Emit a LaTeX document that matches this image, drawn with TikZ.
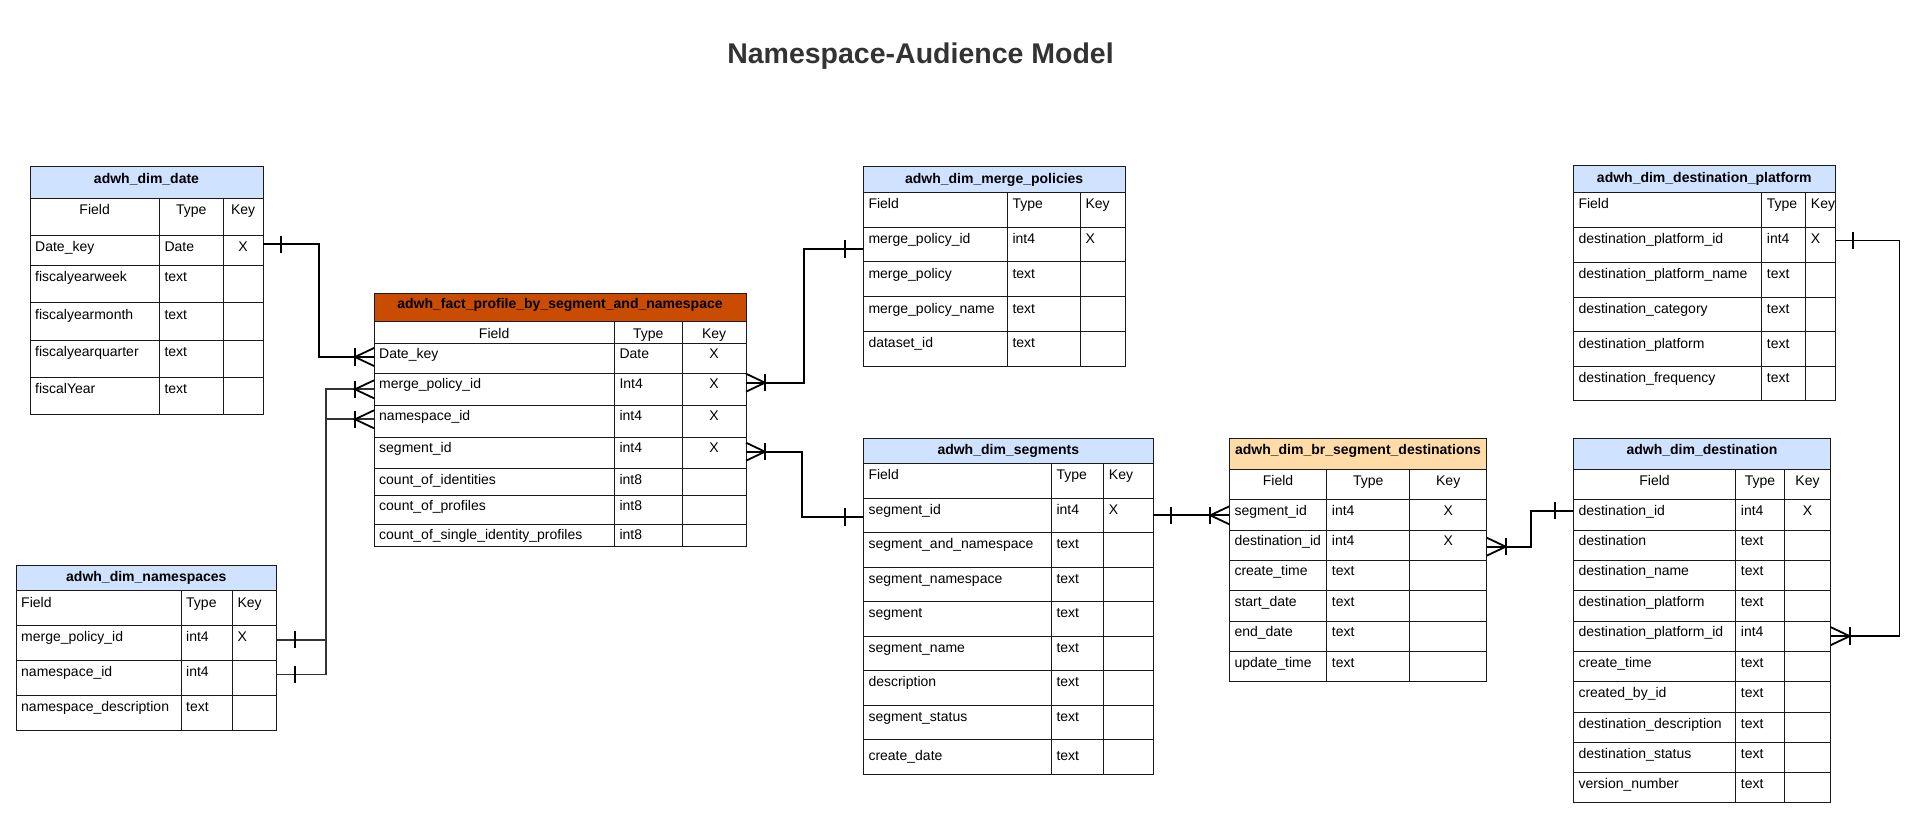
\documentclass[tikz,border=0pt]{standalone}
\usepackage{fontspec}
\setmainfont{Liberation Sans}
\usetikzlibrary{calc}
\definecolor{hblue}{HTML}{CFE2FF}
\definecolor{horange}{HTML}{C94C00}
\definecolor{hpeach}{HTML}{FFDBA8}
\definecolor{ttl}{HTML}{333333}
\definecolor{lineclr}{HTML}{1A1A1A}

\tikzset{
  rowbox/.style={draw=lineclr, line width=1pt, inner sep=0pt, outer sep=0pt, rectangle},
  grid/.style={draw=lineclr, line width=1pt},
  celltxt/.style={inner sep=0pt, font=\fontsize{14}{16}\selectfont, text=black},
  hdrtxt/.style={inner sep=0pt, font=\fontsize{14}{16}\selectfont\bfseries, text=black},
  conn/.style={draw=black, line width=1.8pt},
  pics/barR/.style={code={\draw[conn] (18,-8.7) -- (18,8.7);}},
  pics/barL/.style={code={\draw[conn] (-18,-8.7) -- (-18,8.7);}},
  pics/crowL/.style={code={\draw[conn] (0,-9) -- (-19,0) -- (0,9); \draw[conn] (-19,-8.7) -- (-19,8.7);}},
  pics/crowR/.style={code={\draw[conn] (0,-9) -- (19,0) -- (0,9); \draw[conn] (19,-8.7) -- (19,8.7);}},
}

\def\bl{16.5}
\newcommand\tblhead[3]{% top, bottom, fill
  \pgfmathsetmacro\hh{#2-#1}%
  \pgfmathsetmacro\ww{\xR-\xL}%
  \node[rowbox, fill=#3, minimum width=\ww pt, minimum height=\hh pt, anchor=north west] (\tn-h) at (\xL,#1) {};
}
\newcommand\tblttl[2]{%
  \node[hdrtxt, anchor=base] (\tn-ht) at ({(\xL+\xR)/2},#1+\bl) {#2};
}
\newcommand\tblrow[7]{%
  \pgfmathsetmacro\hh{#3-#2}%
  \pgfmathsetmacro\ww{\xR-\xL}%
  \node[rowbox, minimum width=\ww pt, minimum height=\hh pt, anchor=north west] (\tn-r#1) at (\xL,#2) {};
  \draw[grid] (\xA,#2) -- (\xA,#3) (\xB,#2) -- (\xB,#3);
  \ifnum#7=2
    \node[celltxt, anchor=base] (\tn-f#1) at ({(\xL+\xA)/2},#2+\bl) {#4};
    \node[celltxt, anchor=base] (\tn-t#1) at ({(\xA+\xB)/2},#2+\bl) {#5};
  \else
    \node[celltxt, anchor=base west] (\tn-f#1) at (\xL+5,#2+\bl) {#4};
    \node[celltxt, anchor=base west] (\tn-t#1) at (\xA+5,#2+\bl) {#5};
  \fi
  \ifnum#7=0
    \node[celltxt, anchor=base west] (\tn-k#1) at (\xB+5,#2+\bl) {#6};
  \else
    \node[celltxt, anchor=base] (\tn-k#1) at ({(\xB+\xR)/2},#2+\bl) {#6};
  \fi
}

\begin{document}
\begin{tikzpicture}[x=1pt, y=-1pt]
\fill[white] (0,0) rectangle (1920,837);
\useasboundingbox (0,0) rectangle (1920,837);

\node[font=\fontsize{28.5}{31}\selectfont\bfseries, text=ttl, anchor=base, inner sep=0pt] (title) at (920.5,63.5) {Namespace-Audience Model};

% ---------- adwh_dim_date
\def\tn{date}\def\xL{30}\def\xA{159.3}\def\xB{223.3}\def\xR{263}
\tblhead{166.7}{198.3}{hblue}
\tblttl{166.7}{adwh\_dim\_date}
\tblrow{0}{198.3}{235.3}{Field}{Type}{Key}{2}
\tblrow{1}{235.3}{265.3}{Date\_key}{Date}{X}{1}
\tblrow{2}{265.3}{302.7}{fiscalyearweek}{text}{}{1}
\tblrow{3}{302.7}{340}{fiscalyearmonth}{text}{}{1}
\tblrow{4}{340}{377.3}{fiscalyearquarter}{text}{}{1}
\tblrow{5}{377.3}{414}{fiscalYear}{text}{}{1}

% ---------- fact
\def\tn{fact}\def\xL{374}\def\xA{614.3}\def\xB{682.3}\def\xR{746}
\tblhead{293.3}{321.7}{horange}
\tblttl{291.8}{adwh\_fact\_profile\_by\_segment\_and\_namespace}
\tblrow{0}{321.7}{343.3}{Field}{Type}{Key}{2}
\def\bl{15.5}
\tblrow{1}{343.3}{373.3}{Date\_key}{Date}{X}{1}
\tblrow{2}{373.3}{405.3}{merge\_policy\_id}{Int4}{X}{1}
\tblrow{3}{405.3}{437.3}{namespace\_id}{int4}{X}{1}
\tblrow{4}{437.3}{468.7}{segment\_id}{int4}{X}{1}
\tblrow{5}{468.7}{495}{count\_of\_identities}{int8}{}{1}
\tblrow{6}{495}{524.3}{count\_of\_profiles}{int8}{}{1}
\tblrow{7}{524.3}{546.7}{count\_of\_single\_identity\_profiles}{int8}{}{1}
\def\bl{16.5}

% ---------- namespaces
\def\tn{ns}\def\xL{16}\def\xA{181}\def\xB{232.3}\def\xR{276.7}
\tblhead{565}{590.7}{hblue}
\tblttl{565}{adwh\_dim\_namespaces}
\tblrow{0}{590.7}{625.3}{Field}{Type}{Key}{0}
\tblrow{1}{625.3}{660.3}{merge\_policy\_id}{int4}{X}{0}
\tblrow{2}{660.3}{695.3}{namespace\_id}{int4}{}{0}
\tblrow{3}{695.3}{730.3}{namespace\_description}{text}{}{0}

% ---------- merge policies
\def\tn{merge}\def\xL{863.3}\def\xA{1007.3}\def\xB{1080.3}\def\xR{1125}
\tblhead{166.7}{192.3}{hblue}
\tblttl{166.7}{adwh\_dim\_merge\_policies}
\tblrow{0}{192.3}{227.3}{Field}{Type}{Key}{0}
\tblrow{1}{227.3}{262}{merge\_policy\_id}{int4}{X}{0}
\tblrow{2}{262}{296.7}{merge\_policy}{text}{}{0}
\tblrow{3}{296.7}{331.3}{merge\_policy\_name}{text}{}{0}
\tblrow{4}{331.3}{366.3}{dataset\_id}{text}{}{0}

% ---------- segments
\def\tn{seg}\def\xL{863.3}\def\xA{1051.3}\def\xB{1103.7}\def\xR{1153.3}
\tblhead{438.3}{463.3}{hblue}
\tblttl{438.3}{adwh\_dim\_segments}
\tblrow{0}{463.3}{498.3}{Field}{Type}{Key}{0}
\tblrow{1}{498.3}{532.3}{segment\_id}{int4}{X}{0}
\tblrow{2}{532.3}{567}{segment\_and\_namespace}{text}{}{0}
\tblrow{3}{567}{601.3}{segment\_namespace}{text}{}{0}
\tblrow{4}{601.3}{636}{segment}{text}{}{0}
\tblrow{5}{636}{670.3}{segment\_name}{text}{}{0}
\tblrow{6}{670.3}{705}{description}{text}{}{0}
\tblrow{7}{705}{739.3}{segment\_status}{text}{}{0}
\def\bl{20.7}
\tblrow{8}{739.3}{774}{create\_date}{text}{}{0}
\def\bl{16.5}

% ---------- br segment destinations
\def\tn{br}\def\xL{1229.3}\def\xA{1326.7}\def\xB{1409.7}\def\xR{1486.7}
\tblhead{438.3}{469.3}{hpeach}
\tblttl{438.3}{adwh\_dim\_br\_segment\_destinations}
\def\bl{15.7}
\tblrow{0}{469.3}{499.3}{Field}{Type}{Key}{2}
\tblrow{1}{499.3}{530}{segment\_id}{int4}{X}{1}
\tblrow{2}{530}{560}{destination\_id}{int4}{X}{1}
\tblrow{3}{560}{590.7}{create\_time}{text}{}{1}
\tblrow{4}{590.7}{621}{start\_date}{text}{}{1}
\tblrow{5}{621}{651.3}{end\_date}{text}{}{1}
\tblrow{6}{651.3}{681.3}{update\_time}{text}{}{1}
\def\bl{16.5}

% ---------- destination platform
\def\tn{dp}\def\xL{1573.3}\def\xA{1761.7}\def\xB{1805.7}\def\xR{1835.3}
\tblhead{166}{192.3}{hblue}
\tblttl{166}{adwh\_dim\_destination\_platform}
\tblrow{0}{192.3}{227.3}{Field}{Type}{Key}{0}
\tblrow{1}{227.3}{262.3}{destination\_platform\_id}{int4}{X}{0}
\tblrow{2}{262.3}{297}{destination\_platform\_name}{text}{}{0}
\tblrow{3}{297}{331.7}{destination\_category}{text}{}{0}
\tblrow{4}{331.7}{366.3}{destination\_platform}{text}{}{0}
\tblrow{5}{366.3}{400.7}{destination\_frequency}{text}{}{0}

% ---------- destination
\def\tn{dst}\def\xL{1573.3}\def\xA{1735.7}\def\xB{1784.3}\def\xR{1830.7}
\tblhead{438.3}{469.3}{hblue}
\tblttl{438.3}{adwh\_dim\_destination}
\def\bl{15.7}
\tblrow{0}{469.3}{499.3}{Field}{Type}{Key}{2}
\tblrow{1}{499.3}{530}{destination\_id}{int4}{X}{1}
\tblrow{2}{530}{560}{destination}{text}{}{1}
\tblrow{3}{560}{590.7}{destination\_name}{text}{}{1}
\tblrow{4}{590.7}{621}{destination\_platform}{text}{}{1}
\tblrow{5}{621}{651.3}{destination\_platform\_id}{int4}{}{1}
\tblrow{6}{651.3}{681.7}{create\_time}{text}{}{1}
\tblrow{7}{681.7}{712.3}{created\_by\_id}{text}{}{1}
\tblrow{8}{712.3}{742.3}{destination\_description}{text}{}{1}
\tblrow{9}{742.3}{772.3}{destination\_status}{text}{}{1}
\tblrow{10}{772.3}{802.7}{version\_number}{text}{}{1}
\def\bl{16.5}

% ---------- connectors
% date -> fact
\draw[conn] ([yshift=6pt]date-r1.east) -- ++(56,0) |- ([yshift=1.3pt]fact-r1.west);
\pic at ([yshift=6pt]date-r1.east) {barR};
\pic at ([yshift=1.3pt]fact-r1.west) {crowL};
% namespaces -> fact
\draw[conn, draw=black!80] ([yshift=3.1pt]ns-r1.east) -- ++(49,0) |- (fact-r2.west);
\draw[conn, draw=black!80] ([yshift=3.3pt]ns-r2.east) -- ++(49,0) |- ([yshift=2pt]fact-r3.west);
\pic at ([yshift=3.1pt]ns-r1.east) {barR};
\pic at ([yshift=3.3pt]ns-r2.east) {barR};
\pic at (fact-r2.west) {crowL};
\pic at ([yshift=2pt]fact-r3.west) {crowL};
% fact -> merge policies
\draw[conn] ([yshift=6.6pt]fact-r2.east) -- ++(58,0) |- ([yshift=-4.3pt]merge-r1.west);
\pic at ([yshift=6.6pt]fact-r2.east) {crowR};
\pic at ([yshift=-4.3pt]merge-r1.west) {barL};
% fact -> segments
\draw[conn] ([yshift=1.3pt]fact-r4.east) -- ++(56,0) |- ([yshift=-1.7pt]seg-r1.west);
\pic at ([yshift=1.3pt]fact-r4.east) {crowR};
\pic at ([yshift=-1.7pt]seg-r1.west) {barL};
% segments -> br
\draw[conn] (seg-r1.east) -- (seg-r1.east -| br-r1.west);
\pic at (seg-r1.east) {barR};
\pic at (seg-r1.east -| br-r1.west) {crowL};
% br -> destination
\draw[conn] ([yshift=-1.7pt]br-r2.east) -- ++(44,0) |- ([yshift=4pt]dst-r1.west);
\pic at ([yshift=-1.7pt]br-r2.east) {crowR};
\pic at ([yshift=4pt]dst-r1.west) {barL};
% destination platform -> destination
\draw[conn] ([yshift=4.3pt]dp-r1.east) -- ++(64.2,0) |- (dst-r5.east);
\pic at ([yshift=4.3pt]dp-r1.east) {barR};
\pic at (dst-r5.east) {crowR};
\end{tikzpicture}
\end{document}
